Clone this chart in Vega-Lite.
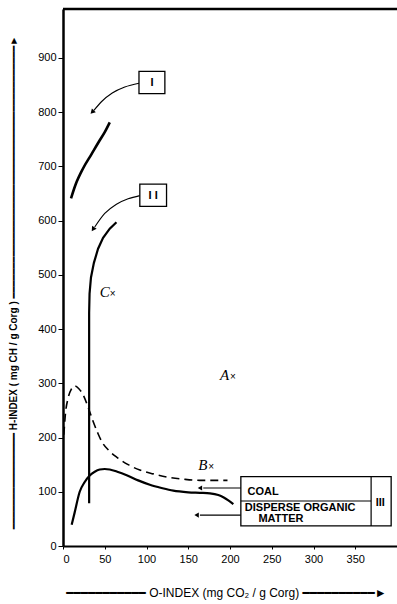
{
  "$schema": "https://vega.github.io/schema/vega-lite/v6.json",
  "autosize": {"type": "none"},
  "padding": {"left": 63, "top": 9, "right": 0, "bottom": 58},
  "width": 334,
  "height": 537,
  "background": "white",
  "config": {
    "view": {"stroke": null},
    "font": "Liberation Sans",
    "axis": {"grid": false, "domainColor": "black", "tickColor": "black", "labelColor": "black", "titleColor": "black", "labelFont": "Liberation Sans", "titleFont": "Liberation Sans, DejaVu Sans", "labelFontSize": 11, "titleFontSize": 11, "titleFontWeight": "normal"}
  },
  "datasets": {
    "type1": [
      {"o": 9.6, "h": 641}, {"o": 15, "h": 666}, {"o": 24, "h": 696}, {"o": 34, "h": 722}, {"o": 44, "h": 748}, {"o": 50, "h": 763}, {"o": 56, "h": 781}
    ],
    "type2": [
      {"o": 64, "h": 597}, {"o": 56, "h": 585}, {"o": 48, "h": 568}, {"o": 42, "h": 548}, {"o": 37, "h": 522}, {"o": 33.5, "h": 495}, {"o": 31.8, "h": 465}, {"o": 31.3, "h": 430}, {"o": 31.3, "h": 79}
    ],
    "dom": [
      {"o": 10.4, "h": 39}, {"o": 14, "h": 62}, {"o": 20, "h": 100}, {"o": 26, "h": 118}, {"o": 32, "h": 130}, {"o": 38, "h": 137}, {"o": 44, "h": 141}, {"o": 50, "h": 142}, {"o": 56, "h": 141}, {"o": 65, "h": 137}, {"o": 77, "h": 130}, {"o": 90, "h": 121}, {"o": 104, "h": 113}, {"o": 118, "h": 107}, {"o": 132, "h": 102}, {"o": 150, "h": 99}, {"o": 164, "h": 98}, {"o": 176, "h": 97}, {"o": 186, "h": 94}, {"o": 192, "h": 90}, {"o": 198, "h": 84}, {"o": 204, "h": 77}
    ],
    "coal": [
      {"o": 1, "h": 205}, {"o": 3, "h": 245}, {"o": 6, "h": 272}, {"o": 10, "h": 289}, {"o": 14, "h": 295}, {"o": 19, "h": 290}, {"o": 25, "h": 276}, {"o": 30, "h": 256}, {"o": 36, "h": 230}, {"o": 42, "h": 207}, {"o": 47, "h": 191}, {"o": 55, "h": 176}, {"o": 65, "h": 163}, {"o": 78, "h": 150}, {"o": 92, "h": 140}, {"o": 108, "h": 133}, {"o": 125, "h": 127}, {"o": 145, "h": 123}, {"o": 164, "h": 121}, {"o": 180, "h": 121}, {"o": 197, "h": 121}
    ],
    "arrows": [
      {"a": "I", "k": 1, "o": 91, "h": 853}, {"a": "I", "k": 2, "o": 74, "h": 846}, {"a": "I", "k": 3, "o": 59, "h": 835}, {"a": "I", "k": 4, "o": 46, "h": 819}, {"a": "I", "k": 5, "o": 37, "h": 803},
      {"a": "II", "k": 1, "o": 92, "h": 646}, {"a": "II", "k": 2, "o": 78, "h": 640}, {"a": "II", "k": 3, "o": 64, "h": 630}, {"a": "II", "k": 4, "o": 50, "h": 613}, {"a": "II", "k": 5, "o": 38, "h": 588},
      {"a": "coal", "k": 1, "o": 213, "h": 107}, {"a": "coal", "k": 2, "o": 168, "h": 107},
      {"a": "dom", "k": 1, "o": 213, "h": 57}, {"a": "dom", "k": 2, "o": 164, "h": 57}
    ],
    "headI": [{"o": 35, "h": 800}],
    "headII": [{"o": 36, "h": 584}],
    "headLeft": [{"o": 164, "h": 107}, {"o": 160, "h": 57}],
    "boxes": [
      {"o1": 91, "o2": 122, "h1": 834, "h2": 875},
      {"o1": 92, "o2": 124, "h1": 626, "h2": 667},
      {"o1": 213, "o2": 393, "h1": 37, "h2": 128}
    ],
    "hdiv": [{"o1": 213, "o2": 369, "h": 83}],
    "vdiv": [{"o": 369, "h1": 37, "h2": 128}],
    "boxtext": [
      {"t": "I", "o": 106.5, "h": 854},
      {"t": "I I", "o": 108, "h": 646},
      {"t": "III", "o": 380, "h": 80},
      {"t": "DISPERSE  ORGANIC", "o": 284, "h": 70},
      {"t": "MATTER", "o": 261, "h": 50}
    ],
    "coaltext": [{"t": "COAL", "o": 221, "h": 100}],
    "points": [
      {"t": "C", "o": 44, "h": 468},
      {"t": "A", "o": 188, "h": 315},
      {"t": "B", "o": 162, "h": 149}
    ]
  },
  "layer": [
    {
      "data": {"name": "coal"},
      "mark": {"type": "line", "color": "black", "strokeWidth": 1.6, "strokeDash": [8, 5], "interpolate": "monotone"},
      "encoding": {
        "x": {"field": "o", "type": "quantitative", "scale": {"domain": [0, 400], "nice": false, "zero": false}, "axis": {"values": [0, 50, 100, 150, 200, 250, 300, 350], "domainWidth": 2, "tickSize": 3, "labelPadding": 4, "title": "━━━━━━━━━━━  O-INDEX  (mg CO₂ / g Corg) ━━━━━━━━━━►", "titleFontSize": 12, "titleX": 163, "titleY": 46, "titleBaseline": "middle", "titleAnchor": null, "titleAlign": "center"}},
        "y": {"field": "h", "type": "quantitative", "scale": {"domain": [0, 990], "nice": false, "zero": false}, "axis": {"values": [0, 100, 200, 300, 400, 500, 600, 700, 800, 900], "domainWidth": 2.5, "tickSize": 5, "labelPadding": 2, "title": "━━━━━━━━━━━━━━━━   H-INDEX  ( mg CH / g Corg ) ━━━━━━━━━━━━━━━━━━━━━━━━━━━━━━━━━━━━━━━━━━►", "titleFontSize": 10, "titleFontWeight": "bold", "titleX": -50, "titleY": 273, "titleAngle": -90, "titleBaseline": "middle", "titleAlign": "center", "titleAnchor": null}}
      }
    },
    {
      "data": {"name": "type1"},
      "mark": {"type": "line", "color": "black", "strokeWidth": 2.6, "interpolate": "monotone"},
      "encoding": {"x": {"field": "o", "type": "quantitative"}, "y": {"field": "h", "type": "quantitative"}, "order": {"field": "h"}}
    },
    {
      "data": {"name": "type2"},
      "mark": {"type": "line", "color": "black", "strokeWidth": 2.2, "interpolate": "linear"},
      "encoding": {"x": {"field": "o", "type": "quantitative"}, "y": {"field": "h", "type": "quantitative"}, "order": {"field": "h", "sort": "descending"}}
    },
    {
      "data": {"name": "dom"},
      "mark": {"type": "line", "color": "black", "strokeWidth": 2.2, "interpolate": "monotone"},
      "encoding": {"x": {"field": "o", "type": "quantitative"}, "y": {"field": "h", "type": "quantitative"}}
    },
    {
      "data": {"name": "arrows"},
      "mark": {"type": "line", "color": "black", "strokeWidth": 1.1, "interpolate": "monotone"},
      "encoding": {"x": {"field": "o", "type": "quantitative"}, "y": {"field": "h", "type": "quantitative"}, "detail": {"field": "a"}, "order": {"field": "k"}}
    },
    {
      "data": {"name": "headI"},
      "mark": {"type": "point", "shape": "triangle-up", "filled": true, "fill": "black", "stroke": null, "size": 30, "angle": 224, "opacity": 1},
      "encoding": {"x": {"field": "o", "type": "quantitative"}, "y": {"field": "h", "type": "quantitative"}}
    },
    {
      "data": {"name": "headII"},
      "mark": {"type": "point", "shape": "triangle-up", "filled": true, "fill": "black", "stroke": null, "size": 30, "angle": 214, "opacity": 1},
      "encoding": {"x": {"field": "o", "type": "quantitative"}, "y": {"field": "h", "type": "quantitative"}}
    },
    {
      "data": {"name": "headLeft"},
      "mark": {"type": "point", "shape": "triangle-left", "filled": true, "fill": "black", "stroke": null, "size": 26, "opacity": 1},
      "encoding": {"x": {"field": "o", "type": "quantitative"}, "y": {"field": "h", "type": "quantitative"}}
    },
    {
      "data": {"name": "boxes"},
      "mark": {"type": "rect", "fill": "white", "stroke": "black", "strokeWidth": 1.3},
      "encoding": {"x": {"field": "o1", "type": "quantitative"}, "x2": {"field": "o2"}, "y": {"field": "h1", "type": "quantitative"}, "y2": {"field": "h2"}}
    },
    {
      "data": {"name": "hdiv"},
      "mark": {"type": "rule", "color": "black", "strokeWidth": 1.2},
      "encoding": {"x": {"field": "o1", "type": "quantitative"}, "x2": {"field": "o2"}, "y": {"field": "h", "type": "quantitative"}}
    },
    {
      "data": {"name": "vdiv"},
      "mark": {"type": "rule", "color": "black", "strokeWidth": 1.2},
      "encoding": {"x": {"field": "o", "type": "quantitative"}, "y": {"field": "h1", "type": "quantitative"}, "y2": {"field": "h2"}}
    },
    {
      "data": {"name": "boxtext"},
      "mark": {"type": "text", "font": "Liberation Sans", "fontSize": 11, "fontWeight": 600, "color": "black", "align": "center", "baseline": "middle"},
      "encoding": {"x": {"field": "o", "type": "quantitative"}, "y": {"field": "h", "type": "quantitative"}, "text": {"field": "t"}}
    },
    {
      "data": {"name": "coaltext"},
      "mark": {"type": "text", "font": "Liberation Sans", "fontSize": 11, "fontWeight": 600, "color": "black", "align": "left", "baseline": "middle"},
      "encoding": {"x": {"field": "o", "type": "quantitative"}, "y": {"field": "h", "type": "quantitative"}, "text": {"field": "t"}}
    },
    {
      "data": {"name": "points"},
      "mark": {"type": "text", "font": "Liberation Serif", "fontSize": 15, "fontStyle": "italic", "color": "black", "align": "left", "baseline": "middle"},
      "encoding": {"x": {"field": "o", "type": "quantitative"}, "y": {"field": "h", "type": "quantitative"}, "text": {"field": "t"}}
    },
    {
      "data": {"name": "points"},
      "mark": {"type": "text", "font": "Liberation Sans", "fontSize": 10, "color": "black", "align": "left", "baseline": "middle", "dx": 10, "dy": 2},
      "encoding": {"x": {"field": "o", "type": "quantitative"}, "y": {"field": "h", "type": "quantitative"}, "text": {"value": "×"}}
    },
    {
      "data": {"values": [{"top": 990}]},
      "mark": {"type": "rule", "color": "black", "strokeWidth": 2.5},
      "encoding": {"y": {"field": "top", "type": "quantitative"}}
    }
  ]
}
